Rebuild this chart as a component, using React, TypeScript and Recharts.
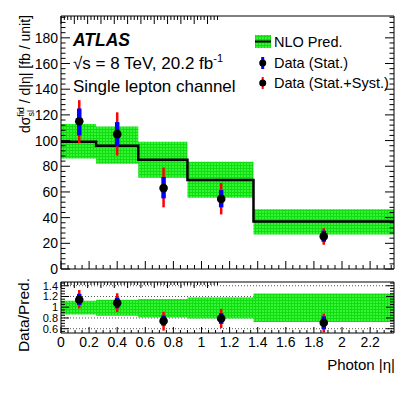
import React from "react";
import { ComposedChart, Area, Line, Scatter, ErrorBar, XAxis, YAxis, CartesianGrid } from "recharts";

// NLO prediction, per |eta| bin
const binEdges = [0, 0.25, 0.55, 0.9, 1.37, 2.37];
const nloPred = [99, 96, 85, 69.3, 37];
const nloHigh = [113, 111, 99, 83.5, 46.5];
const nloLow = [86, 82, 71, 55.4, 26.8];

// data points: [down, up] errors
const dataEta = [0.13, 0.4, 0.73, 1.14, 1.87];
const dataXsec = [115, 105, 63, 54.6, 25.4];
const statErr = [[11, 10], [9.5, 9.4], [8, 8.6], [6.6, 6.8], [4.2, 4.5]];
const totErr = [[17, 16.5], [16.6, 17], [15, 16], [12.1, 12.4], [6.5, 6.3]];

// ratio panel
const ratioHigh = [1.12, 1.14, 1.155, 1.18, 1.255];
const ratioLow = [0.865, 0.84, 0.81, 0.79, 0.727];
const ratioVals = [1.14, 1.08, 0.745, 0.79, 0.71];
const ratioStat = [[0.1, 0.11], [0.1, 0.1], [0.09, 0.1], [0.1, 0.1], [0.12, 0.12]];
const ratioTot = [[0.16, 0.18], [0.17, 0.18], [0.18, 0.17], [0.18, 0.18], [0.18, 0.17]];

const X_MAX = 2.37;
const Y_MAX = 197;
const R_MIN = 0.52;
const R_MAX = 1.47;

const FONT = "'Liberation Sans', Arial, Helvetica, sans-serif";

const range = (a: number, b: number, s: number) => {
  const out: number[] = [];
  for (let v = a; v <= b + 1e-9; v += s) out.push(Math.round(v * 1000) / 1000);
  return out;
};
const xTicks = range(0, 2.35, 0.05);
const yTicks = range(0, 196, 4);
const rTicks = range(0.55, 1.45, 0.05);

const isMult = (v: number, step: number) => Math.abs(v / step - Math.round(v / step)) < 1e-6;
const fmt = (v: number) => String(Math.round(v * 100) / 100);

// ROOT-style ticks drawn inside the frame, labels outside
const makeTick =
  (side: string, step: number, majorLen: number, minorLen: number, label: boolean, fontSize = 14) =>
  (props: any) => {
    const { x, y, payload } = props;
    const v = payload.value;
    const major = isMult(v, step);
    const len = major ? majorLen : minorLen;
    let l = { x1: x, y1: y, x2: x, y2: y };
    if (side === "left") l.x2 = x + len;
    if (side === "right") l.x2 = x - len;
    if (side === "top") l.y2 = y + len;
    if (side === "bottom") l.y2 = y - len;
    return (
      <g>
        <line {...l} stroke="#000" strokeWidth={1} />
        {major && label && side === "left" && (
          <text x={x - 3} y={y} dy="0.36em" textAnchor="end" fontSize={fontSize} fontFamily={FONT} fill="#000">
            {fmt(v)}
          </text>
        )}
        {major && label && side === "bottom" && (
          <text x={x} y={y + 14} textAnchor="middle" fontSize={fontSize} fontFamily={FONT} fill="#000">
            {fmt(v)}
          </text>
        )}
      </g>
    );
  };

const hatch = (id: string) => (
  <defs>
    <pattern id={id} width={3} height={3} patternUnits="userSpaceOnUse">
      <rect width={3} height={3} fill="#33f533" />
      <path d="M0 0.5H3M0.5 0V3" stroke="#12dc12" strokeWidth={1} />
    </pattern>
  </defs>
);

const bandRows = binEdges.map((x, i) => {
  const j = Math.min(i, nloPred.length - 1);
  return { x, pred: nloPred[j], band: [nloLow[j], nloHigh[j]], rband: [ratioLow[j], ratioHigh[j]] };
});

const points = dataEta.map((x, i) => ({ x, y: dataXsec[i], stat: statErr[i], tot: totErr[i] }));
const ratioPoints = dataEta.map((x, i) => ({ x, y: ratioVals[i], stat: ratioStat[i], tot: ratioTot[i] }));

const Dot = (p: any) => <circle cx={p.cx} cy={p.cy} r={4.3} fill="#000" />;

const axisCommon = {
  type: "number" as const,
  interval: 0 as const,
  tickSize: 0,
  tickMargin: 0,
  tickLine: false,
  allowDataOverflow: true,
  axisLine: { stroke: "#000", strokeWidth: 1 },
};

export default function App() {
  return (
    <div style={{ position: "absolute", left: 0, top: 0, width: 407, height: 395, background: "#fff" }}>
      <div style={{ position: "absolute", left: 0, top: 0 }}>
        <ComposedChart width={407} height={285} data={bandRows} margin={{ top: 15, right: 12, bottom: 15, left: 60 }}>
          {hatch("hatchTop")}
          <XAxis dataKey="x" {...axisCommon} domain={[0, X_MAX]} ticks={xTicks} height={1} tick={makeTick("bottom", 0.2, 8, 4, false)} />
          <XAxis xAxisId="top" orientation="top" {...axisCommon} domain={[0, X_MAX]} ticks={xTicks} height={1} tick={makeTick("top", 0.2, 8, 4, false)} />
          <YAxis {...axisCommon} domain={[0, Y_MAX]} ticks={yTicks} width={1} tick={makeTick("left", 20, 9, 4.5, true)} />
          <YAxis yAxisId="r" orientation="right" {...axisCommon} domain={[0, Y_MAX]} ticks={yTicks} width={1} tick={makeTick("right", 20, 9, 4.5, false)} />
          <Area dataKey="band" type="stepAfter" stroke="none" fill="url(#hatchTop)" fillOpacity={1} isAnimationActive={false} />
          <Line dataKey="pred" type="stepAfter" stroke="#000" strokeWidth={2.5} dot={false} isAnimationActive={false} />
          <Scatter data={points} dataKey="y" shape={Dot} isAnimationActive={false}>
            <ErrorBar dataKey="tot" width={0} stroke="#ff0000" strokeWidth={2.5} direction="y" />
            <ErrorBar dataKey="stat" width={0} stroke="#0000ff" strokeWidth={4.5} direction="y" />
          </Scatter>
        </ComposedChart>
      </div>
      <div style={{ position: "absolute", left: 0, top: 270 }}>
        <ComposedChart width={407} height={125} data={bandRows} margin={{ top: 11, right: 12, bottom: 61, left: 60 }}>
          {hatch("hatchRatio")}
          <CartesianGrid vertical={false} horizontalValues={[0.6, 0.8, 1.2, 1.4]} stroke="#555" strokeDasharray="1 2" />
          <XAxis dataKey="x" {...axisCommon} domain={[0, X_MAX]} ticks={xTicks} height={1} tick={makeTick("bottom", 0.2, 6, 3, true)} />
          <XAxis xAxisId="top" orientation="top" {...axisCommon} domain={[0, X_MAX]} ticks={xTicks} height={1} tick={makeTick("top", 0.2, 6, 3, false)} />
          <YAxis {...axisCommon} domain={[R_MIN, R_MAX]} ticks={rTicks} width={1} tick={makeTick("left", 0.2, 8, 4, true, 11)} />
          <YAxis yAxisId="r" orientation="right" {...axisCommon} domain={[R_MIN, R_MAX]} ticks={rTicks} width={1} tick={makeTick("right", 0.2, 8, 4, false)} />
          <Area dataKey="rband" type="stepAfter" stroke="none" fill="url(#hatchRatio)" fillOpacity={1} isAnimationActive={false} />
          <Scatter data={ratioPoints} dataKey="y" shape={Dot} isAnimationActive={false}>
            <ErrorBar dataKey="tot" width={0} stroke="#ff0000" strokeWidth={2.5} direction="y" />
            <ErrorBar dataKey="stat" width={0} stroke="#0000ff" strokeWidth={4.5} direction="y" />
          </Scatter>
        </ComposedChart>
      </div>
      <svg width={407} height={395} style={{ position: "absolute", left: 0, top: 0, pointerEvents: "none" }} fontFamily={FONT}>
        {hatch("hatchLegend")}
        <text x={73} y={45.5} fontSize={17.5} fontWeight="bold" fontStyle="italic">ATLAS</text>
        <text x={73} y={68.5} fontSize={17}>
          √s = 8 TeV, 20.2 fb<tspan fontSize={11} dy={-7}>-1</tspan>
        </text>
        <text x={73} y={91.5} fontSize={17}>Single lepton channel</text>

        <rect x={255} y={35} width={16} height={13} fill="url(#hatchLegend)" />
        <line x1={255} x2={271} y1={41.5} y2={41.5} stroke="#000" strokeWidth={2} />
        <text x={274} y={46.5} fontSize={14.5}>NLO Pred.</text>
        <line x1={262.7} x2={262.7} y1={57} y2={69} stroke="#0000ff" strokeWidth={3} />
        <circle cx={262.7} cy={63} r={3.5} fill="#000" />
        <text x={274} y={68} fontSize={14.5}>Data (Stat.)</text>
        <line x1={262.7} x2={262.7} y1={77} y2={89} stroke="#ff0000" strokeWidth={2} />
        <circle cx={262.7} cy={83} r={3.5} fill="#000" />
        <text x={274} y={88} fontSize={14.5}>Data (Stat.+Syst.)</text>

        <g transform="translate(30,15) rotate(-90)">
          <text x={0} y={0} textAnchor="end" fontSize={14}>
            dσ<tspan fontSize={9} dy={-6}>fid</tspan>
            <tspan fontSize={9} dx={-9.5} dy={9.5}>sl</tspan>
            <tspan dx={3} dy={-3.5}> / d|η| [fb / unit]</tspan>
          </text>
        </g>
        <g transform="translate(29,278) rotate(-90)">
          <text x={0} y={0} textAnchor="end" fontSize={15.5}>Data/Pred.</text>
        </g>
        <text x={395} y={370} textAnchor="end" fontSize={15}>Photon |η|</text>
      </svg>
    </div>
  );
}
